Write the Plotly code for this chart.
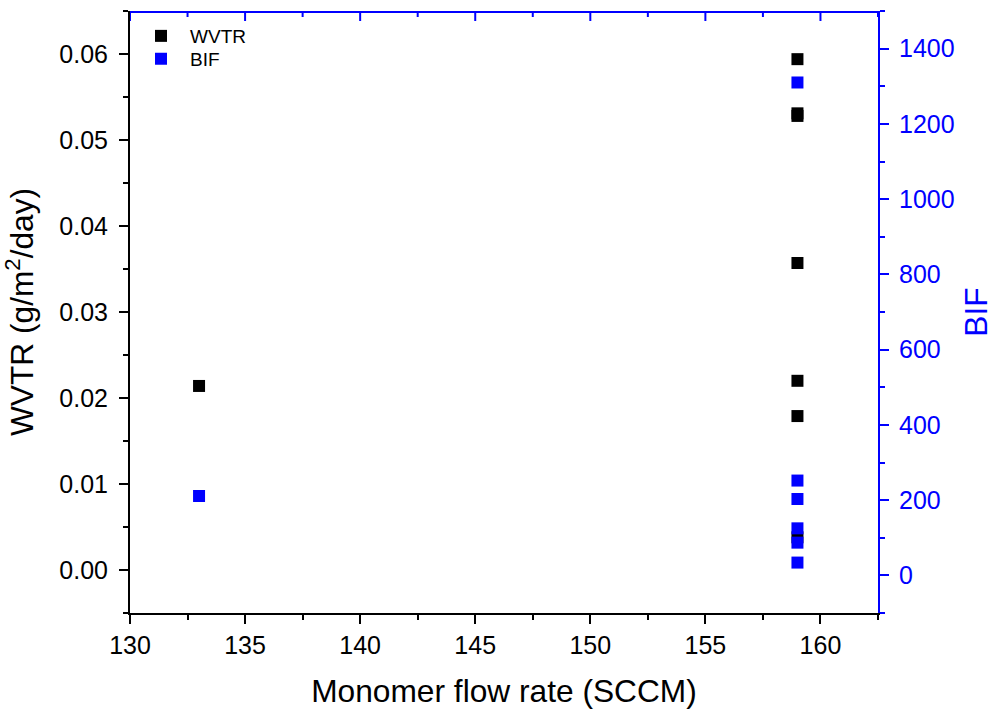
import plotly.graph_objects as go

# ---- data ----
flow_wvtr = [133, 159, 159, 159, 159, 159, 159, 159]
wvtr = [0.0214, 0.0594, 0.0531, 0.0528, 0.0357, 0.0220, 0.0179, 0.0038]

flow_bif = [133, 159, 159, 159, 159, 159, 159]
bif = [211, 1310, 252, 203, 125, 87, 34]

x_major_ticks = [130, 135, 140, 145, 150, 155, 160]
x_minor_ticks = [132.5, 137.5, 142.5, 147.5, 152.5, 157.5, 162.5]

x_range = [130, 162.5]
wvtr_range = [-0.005, 0.065]
bif_range = [-100, 1500]

x_title = "Monomer flow rate (SCCM)"
wvtr_title = "WVTR (g/m<sup>2</sup>/day)"
bif_title = "BIF"

BLUE = "#0000FF"
FONT = "Liberation Sans, Arial, sans-serif"
PLOT_H = 711 - 11 - 98  # plot-area height in px
Y_PER_PX = (wvtr_range[1] - wvtr_range[0]) / PLOT_H

fig = go.Figure()
fig.add_trace(go.Scatter(
    x=flow_wvtr, y=wvtr, mode="markers", name="WVTR",
    marker=dict(symbol="square", size=12, color="black", line=dict(width=0)),
    xaxis="x", yaxis="y", legend="legend",
))
fig.add_trace(go.Scatter(
    x=flow_bif, y=bif, mode="markers", name="BIF",
    marker=dict(symbol="square", size=12, color=BLUE, line=dict(width=0)),
    xaxis="x", yaxis="y2", legend="legend2",
))

# top frame: blue line with inward ticks (axis decoration)
top = wvtr_range[1]
shapes = [dict(type="line", xref="x", yref="y", x0=x_range[0], x1=x_range[1],
               y0=top - 1 * Y_PER_PX, y1=top - 1 * Y_PER_PX,
               line=dict(color=BLUE, width=2), layer="above")]
for t in x_major_ticks:
    shapes.append(dict(type="line", xref="x", yref="y", x0=t, x1=t,
                       y0=top, y1=top - 10 * Y_PER_PX,
                       line=dict(color=BLUE, width=2), layer="above"))
for t in x_minor_ticks:
    shapes.append(dict(type="line", xref="x", yref="y", x0=t, x1=t,
                       y0=top, y1=top - 6 * Y_PER_PX,
                       line=dict(color=BLUE, width=2), layer="above"))

tick_font = dict(family=FONT, size=25, color="black")
title_font = dict(family=FONT, size=31.7, color="black")
leg_font = dict(family=FONT, size=19, color="black")

fig.update_layout(
    width=994, height=711,
    margin=dict(l=130, r=116, t=11, b=98, pad=0, autoexpand=False),
    paper_bgcolor="white", plot_bgcolor="white",
    font=dict(family=FONT, color="black"),
    showlegend=True,
    shapes=shapes,
    legend=dict(
        x=0.0027, y=0.990, xanchor="left", yanchor="top",
        font=leg_font, bgcolor="rgba(0,0,0,0)", borderwidth=0, itemwidth=48,
    ),
    legend2=dict(
        x=0.0027, y=0.952, xanchor="left", yanchor="top",
        font=leg_font, bgcolor="rgba(0,0,0,0)", borderwidth=0, itemwidth=48,
    ),
    xaxis=dict(
        range=x_range, tickvals=x_major_ticks, automargin=False,
        showline=True, linecolor="black", linewidth=2,
        ticks="outside", ticklen=9, tickwidth=2, tickcolor="black",
        minor=dict(ticks="outside", ticklen=5, tickwidth=2, tickvals=x_minor_ticks, tickcolor="black"),
        showgrid=False, zeroline=False,
        tickfont=tick_font,
        title=dict(text=x_title, font=title_font, standoff=22),
    ),
    yaxis=dict(
        range=wvtr_range, dtick=0.01, tick0=0, tickformat=".2f", automargin=False,
        showline=True, linecolor="black", linewidth=2,
        ticks="outside", ticklen=9, tickwidth=2, tickcolor="black",
        minor=dict(ticks="outside", ticklen=5, tickwidth=2, dtick=0.005, tick0=0, tickcolor="black"),
        showgrid=False, zeroline=False,
        tickfont=tick_font, ticklabelstandoff=6,
        title=dict(text=wvtr_title, font=title_font, standoff=16),
    ),
    yaxis2=dict(
        range=bif_range, dtick=200, tick0=0, overlaying="y", side="right",
        anchor="x", automargin=False,
        showline=True, linecolor=BLUE, linewidth=2,
        ticks="outside", ticklen=9, tickwidth=2, tickcolor=BLUE,
        minor=dict(ticks="outside", ticklen=5, tickwidth=2, dtick=100, tick0=0, tickcolor=BLUE),
        showgrid=False, zeroline=False,
        tickfont=dict(family=FONT, size=25, color=BLUE), ticklabelstandoff=5,
        title=dict(text=bif_title, font=dict(family=FONT, size=31.7, color=BLUE), standoff=31),
    ),
)

fig.write_html(
    "out.html",
    config={"displayModeBar": False},
    post_script="document.body.style.margin='0';document.body.style.overflow='hidden';",
)
